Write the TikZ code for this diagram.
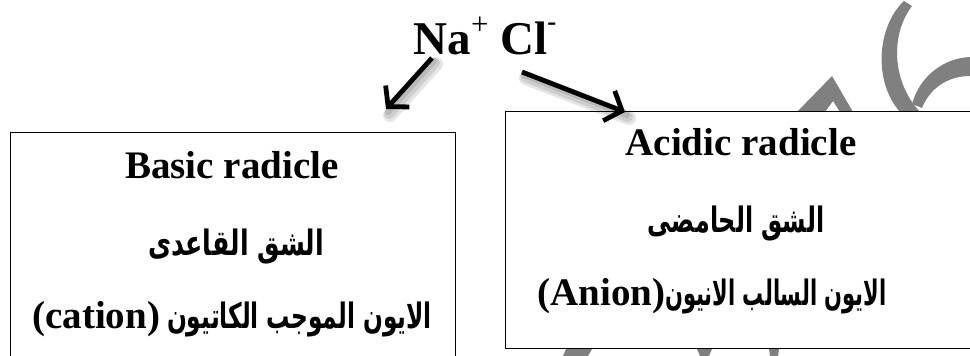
\documentclass[tikz,border=0pt]{standalone}
\usepackage{fontspec}
\usepackage{graphicx}
\setmainfont{Liberation Serif}
\newfontfamily\arabicfont[Script=Arabic]{DejaVu Sans}
\TeXXeTstate=1
\usetikzlibrary{arrows.meta}

\definecolor{markgray}{HTML}{808080}

% Arabic run, narrowed by the given factor
\newcommand\arline[2]{\scalebox{#1}[1]{\fontsize{35}{42}\selectfont\arabicfont #2}}
% ion charges
\newcommand\chargeplus{\raisebox{20pt}{\fontsize{31}{31}\selectfont\mdseries +}}
\newcommand\chargeminus{\raisebox{24pt}{\fontsize{27}{27}\selectfont -}}

\tikzset{
  latin/.style={font=\fontsize{39}{46}\selectfont\bfseries, anchor=base, inner sep=0pt},
  title/.style={font=\fontsize{47}{56}\selectfont\bfseries, anchor=base, inner sep=0pt},
  panel/.style={draw=black, line width=1.2pt, fill=white, anchor=north west, inner sep=0pt},
  split/.style={line width=4.8pt, -{Straight Barb[length=14pt,width=32pt]}},
  splitshade/.style={line cap=round, draw=black, opacity=0.10}
}

\begin{document}
\begin{tikzpicture}[x=1pt,y=-1pt]
\useasboundingbox (0,0) rectangle (970,356);

% faint background emblem
\begin{scope}[fill=markgray, draw=none]
  \fill (797,112) -- (832,76) -- (853,112) -- (840,112) -- (833,101) -- (825,112) -- cycle;
  \fill (904,1) .. controls (878,25) and (872,80) .. (900,112)
        -- (920,112) .. controls (892,82) and (890,35) .. (912,6) -- cycle;
  \fill (912,104) .. controls (920,75) and (945,58) .. (970,57)
        -- (970,76) .. controls (948,76) and (930,88) .. (922,108) -- cycle;
  \fill (563,356) -- (566,349) -- (592,349) -- (588,356) -- cycle;
  \fill (697,349) -- (712,349) -- (709,356) -- (700,356) -- cycle;
  \fill (769,349) -- (779,349) -- (778,356) -- (770,356) -- cycle;
\end{scope}

% the two boxes
\node[panel, minimum width=445pt, minimum height=250pt] (lbox) at (10,132) {};
\node[panel, minimum width=473pt, minimum height=237pt] (rbox) at (505,111) {};

% the salt
\node[title] (salt) at (485,54) {Na\chargeplus\ Cl\chargeminus};

% arrow ends
\coordinate (na) at (432,58);
\coordinate (natip) at (386,109);
\coordinate (cl) at (522,72);
\coordinate (cltip) at (625,112);

% soft shadow under the arrows
\foreach \dx/\dy/\w in {2/3/6, 3/5/10, 4/6/14} {
  \draw[splitshade, line width=\w pt] ([shift={(\dx,\dy)}]na) -- ([shift={(\dx,\dy)}]natip);
  \draw[splitshade, line width=\w pt] ([shift={(\dx,\dy)}]cl) -- ([shift={(\dx,\dy)}]cltip);
}
\draw[split] (na) -- (natip);
\draw[split] (cl) -- (cltip);

% basic radicle
\node[latin] (basic) at (232,178) {Basic radicle};
\node[latin] (qaedy) at (236,255) {\arline{0.72}{\beginR الشق القاعدى\endR}};
\node[latin] (cation) at (232,328) {(cation)\hspace{7pt}\arline{0.665}{\beginR الايون الموجب الكاتيون\endR}};

% acidic radicle
\node[latin] (acidic) at (741,155) {Acidic radicle};
\node[latin] (hamdy) at (736,232) {\arline{0.68}{\beginR الشق الحامضى\endR}};
\node[latin] (anion) at (712,305) {(Anion)\arline{0.6}{\beginR الايون السالب الانيون\endR}};
\end{tikzpicture}
\end{document}
